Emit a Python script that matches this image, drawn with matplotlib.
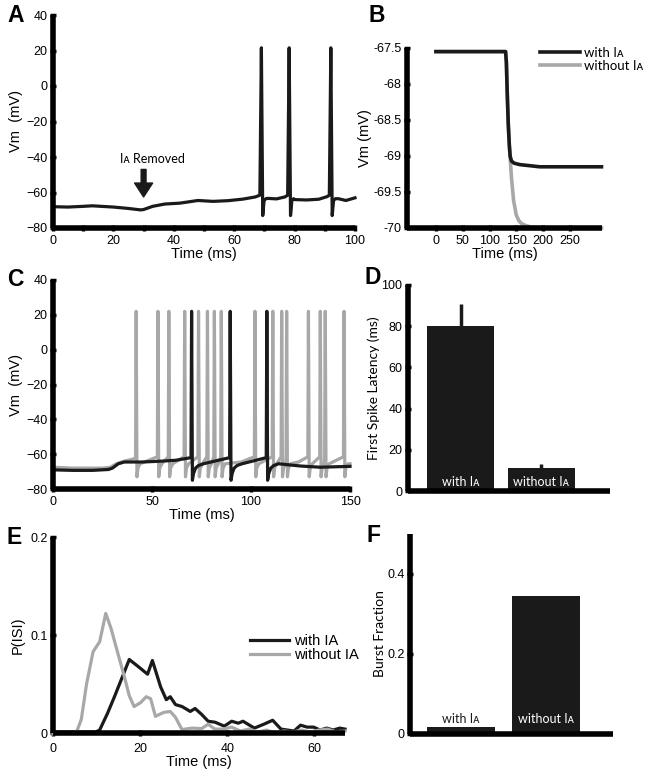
import numpy as np
import matplotlib.pyplot as plt

plt.rcParams['font.family'] = ['Liberation Sans', 'DejaVu Sans']
MYR = ['Lato', 'DejaVu Sans']
IA = 'I\u1d00'
GRAY = '#a8a8a8'
BLK = '#1a1a1a'

# ---- panel A: membrane trace, IA removed at 30 ms
a_base_t = [0, 5, 10, 13, 20, 25, 29, 30, 33, 37, 42, 48, 53, 58, 63, 67,
            71, 74, 76.8, 80, 84, 88, 90.8, 94.5, 97, 100]
a_base_v = [-68, -68.2, -67.8, -67.5, -68.2, -69, -69.8, -69.6, -67.8, -66.5, -66, -64.5,
            -65, -64.6, -63.7, -62.5, -63.3, -63.6, -62.5, -64, -64.2, -63.8, -62.3,
            -63.5, -64.5, -63]
a_spikes = [69.0, 78.2, 92.0]
a_shape_dt = [-0.5, 0, 0.45, 0.9, 1.5]
a_shape_v = [-61.5, 21.5, -73, -64.5, -63.5]

# ---- panel B: steady state Vm
b_t_with = [0, 130, 131.5, 133, 135, 137, 138.5, 141, 146, 157, 194, 309]
b_v_with = [-67.55, -67.55, -67.7, -68.1, -68.55, -68.85, -69.0, -69.07, -69.1, -69.12, -69.15, -69.15]
b_t_without = [0, 130, 131.5, 133, 135, 137, 138.5, 141, 145, 150, 155, 160, 169, 180, 194, 309]
b_v_without = [-67.55, -67.55, -67.7, -68.1, -68.55, -68.85, -69.02, -69.3, -69.62, -69.82, -69.9,
               -69.94, -69.97, -69.99, -70.0, -70.0]

# ---- panel C: spike trains
c_gray_base_t = [0, 10, 25, 29, 32, 36, 41.5, 95, 124, 149, 150]
c_gray_base_v = [-67.5, -68, -68, -67.5, -65.5, -64, -62.5, -64.5, -64.5, -66, -65.5]
c_gray_spikes = [42, 53, 58.5, 66.5, 73.5, 78, 81.5, 85, 102, 111, 115.5, 118,
                 129, 135, 137.5, 147]
c_gray_shape_dt = [-0.3, 0, 0.4, 0.9, 2.0]
c_gray_shape_v = [-61.5, 22, -73, -68, -65.5]

c_blk_base_t = [0, 10, 20, 28, 30, 33, 36, 45, 55, 62, 118, 125, 135, 150]
c_blk_base_v = [-69, -69.3, -69.3, -68.8, -68, -65.5, -64.5, -64.5, -64, -63.5, -66, -66.8, -67.5, -67]
c_blk_spikes = [70, 89.5, 108]
c_blk_shape_dt = [-0.3, 0, 0.4, 1.0, 2.0, 3.5, 6.0]
c_blk_shape_v = [-62, 22, -75, -71, -68, -66.5, -65.5]

# ---- panel D: first spike latency
d_labels = ['with ' + IA, 'without ' + IA]
d_values = [80, 11]
d_err = [11, 2]

# ---- panel E: ISI distributions
e_t_with = [0, 9.8, 10.7, 12.5, 14.1, 15.8, 17.5, 19.5, 21.7, 22.8, 24.7, 26, 26.9, 28.1, 29.6,
            31.5, 32.6, 34.1, 35.6, 37.2, 39.3, 41, 42.5, 43.6, 46.2, 48.4, 50.4, 52.3, 55.3,
            56.8, 58.3, 59.8, 61.3, 62.8, 64.3, 65.8, 67]
e_p_with = [0.001, 0.001, 0.003, 0.02, 0.037, 0.056, 0.075, 0.068, 0.06, 0.074, 0.047, 0.034,
            0.037, 0.029, 0.027, 0.022, 0.025, 0.019, 0.012, 0.011, 0.007, 0.012, 0.01, 0.012,
            0.005, 0.009, 0.013, 0.004, 0.002, 0.008, 0.006, 0.006, 0.003, 0.005, 0.003, 0.005, 0.004]
e_t_without = [0, 3, 5.4, 6.5, 7.7, 9.2, 10.7, 12.1, 13.3, 14.9, 16.4, 17.5, 18.6, 20.1, 21.4,
               22.4, 23.5, 25.4, 26.9, 28.1, 29.6, 31.9, 34.1, 35.6, 37.1, 39, 41, 43, 45, 47,
               49, 51, 53, 55, 57, 59, 61, 63, 65, 67]
e_p_without = [-0.001, 0.0, 0.001, 0.014, 0.05, 0.083, 0.093, 0.122, 0.107, 0.081, 0.057, 0.038,
               0.027, 0.031, 0.037, 0.035, 0.017, 0.021, 0.022, 0.016, 0.0035, 0.005, 0.0045,
               0.009, 0.004, 0.004, 0.006, 0.002, 0.004, 0.001, 0.003, 0.0, 0.002, 0.001, 0.003,
               0.001, 0.003, 0.004, 0.001, 0.002]

# ---- panel F: burst fraction
f_labels = ['with ' + IA, 'without ' + IA]
f_values = [0.018, 0.345]


def build_trace(base_t, base_v, spikes, shape_dt, shape_v):
    pts = list(zip(base_t, base_v))
    for ts in spikes:
        pts += [(ts + d, v) for d, v in zip(shape_dt, shape_v)]
    pts.sort()
    t, v = zip(*pts)
    return np.array(t), np.array(v)


def style(ax):
    for s in ['top', 'right']:
        ax.spines[s].set_visible(False)
    for s in ['left', 'bottom']:
        ax.spines[s].set_linewidth(4)
        ax.spines[s].set_capstyle('butt')
    ax.tick_params(direction='inout', length=4, width=2.5, labelsize=9, pad=2)
    ax.tick_params(axis='x', pad=3)


def panel_label(x, y, s):
    fig.text(x / 645, 1 - y / 775, s, fontsize=16.5, fontweight='bold', va='center', ha='left')


fig = plt.figure(figsize=(6.45, 7.75), dpi=100)

# A
axA = fig.add_axes([53 / 645, 1 - 228 / 775, 302 / 645, 213 / 775])
ta, va = build_trace(a_base_t, a_base_v, a_spikes, a_shape_dt, a_shape_v)
axA.plot(ta, va, color=BLK, lw=2.3, clip_on=False)
axA.set_xlim(0, 100)
axA.set_ylim(-80, 40)
axA.set_xticks(range(0, 101, 20))
axA.set_xticks(range(10, 100, 20), minor=True)
axA.set_yticks(range(-80, 41, 20))
style(axA)
axA.tick_params(which='minor', direction='inout', length=4, width=2.5)
axA.set_xlabel('Time (ms)', fontsize=10.5, labelpad=0)
axA.set_ylabel('Vm  (mV)', fontsize=10.5, labelpad=2)
axA.annotate('', xy=(30, -62.5), xytext=(30, -47),
             arrowprops=dict(facecolor=BLK, edgecolor=BLK, width=3.5, headwidth=13, headlength=10))
axA.text(33, -41, IA + ' Removed', ha='center', va='center', fontsize=9, family=MYR)
panel_label(7, 16, 'A')

# B
axB = fig.add_axes([407 / 645, 1 - 228 / 775, 195 / 645, 180 / 775])
axB.plot(b_t_without, b_v_without, color=GRAY, lw=2.6, label='without ' + IA, clip_on=False)
axB.plot(b_t_with, b_v_with, color=BLK, lw=2.6, label='with ' + IA, clip_on=False)
axB.set_xlim(-54, 310)
axB.set_ylim(-70, -67.5)
axB.set_xticks([0, 50, 100, 150, 200, 250])
axB.set_yticks([-70, -69.5, -69, -68.5, -68, -67.5])
axB.set_yticklabels(['-70', '-69.5', '-69', '-68.5', '-68', '-67.5'])
style(axB)
axB.set_xlabel('Time (ms)', fontsize=10.5, labelpad=0)
axB.set_ylabel('Vm (mV)', fontsize=10.5, labelpad=1)
h, l = axB.get_legend_handles_labels()
fig.legend(h[::-1], l[::-1], loc='upper left', bbox_to_anchor=(540 / 645, 1 - 47 / 775),
           frameon=False, handlelength=3.0, handletextpad=0.3, labelspacing=0.05,
           borderpad=0, borderaxespad=0, prop={'family': MYR, 'size': 9.5})
panel_label(368, 16, 'B')

# C
axC = fig.add_axes([53 / 645, 1 - 489 / 775, 297 / 645, 209 / 775])
tg, vg = build_trace(c_gray_base_t, c_gray_base_v, c_gray_spikes, c_gray_shape_dt, c_gray_shape_v)
tb, vb = build_trace(c_blk_base_t, c_blk_base_v, c_blk_spikes, c_blk_shape_dt, c_blk_shape_v)
axC.plot(tg, vg, color=GRAY, lw=2.3, clip_on=False)
axC.plot(tb, vb, color=BLK, lw=2.3, clip_on=False)
axC.set_xlim(0, 150)
axC.set_ylim(-80, 40)
axC.set_xticks([0, 50, 100, 150])
axC.set_yticks(range(-80, 41, 20))
style(axC)
axC.set_xlabel('Time (ms)', fontsize=10.5, labelpad=0)
axC.set_ylabel('Vm  (mV)', fontsize=10.5, labelpad=2)
panel_label(7, 280, 'C')

# D
axD = fig.add_axes([408 / 645, 1 - 491 / 775, 202 / 645, 206 / 775])
xd = np.arange(1, len(d_values) + 1)
axD.bar(xd, d_values, width=0.83, color=BLK)
axD.errorbar(xd, d_values, yerr=[[0, 0], d_err], fmt='none', ecolor=BLK, elinewidth=2.5, capsize=0)
for x, lab in zip(xd, d_labels):
    axD.text(x, 4.5, lab, color='white', ha='center', va='center', fontsize=9, family=MYR)
axD.set_xlim(0.35, 2.85)
axD.set_ylim(0, 100)
axD.set_xticks([])
axD.set_yticks(range(0, 101, 20))
style(axD)
axD.set_ylabel('First Spike Latency (ms)', fontsize=10, labelpad=1, family=MYR)
panel_label(364, 277, 'D')

# E
axE = fig.add_axes([53 / 645, 1 - 733 / 775, 292 / 645, 196 / 775])
axE.plot(e_t_with, e_p_with, color=BLK, lw=2.3, label='with IA', clip_on=False)
axE.plot(e_t_without, e_p_without, color=GRAY, lw=2.3, label='without IA', clip_on=False)
axE.set_xlim(0, 67)
axE.set_ylim(0, 0.2)
axE.set_xticks([0, 20, 40, 60])
axE.set_yticks([0, 0.1, 0.2])
axE.set_yticklabels(['0', '0.1', '0.2'])
style(axE)
axE.tick_params(axis='x', pad=5)
axE.set_xlabel('Time (ms)', fontsize=10.5, labelpad=0)
axE.set_ylabel('P(ISI)', fontsize=10.5, labelpad=4)
axE.legend(loc='upper left', bbox_to_anchor=(250 / 645, 1 - 634 / 775),
           bbox_transform=fig.transFigure, frameon=False, fontsize=10.5, handlelength=2.7,
           handletextpad=0.3, labelspacing=0.0, borderpad=0, borderaxespad=0)
panel_label(7, 537, 'E')

# F
axF = fig.add_axes([410 / 645, 1 - 734 / 775, 203 / 645, 200 / 775])
xf = np.arange(1, len(f_values) + 1)
axF.bar(xf, f_values, width=0.8, color=BLK)
axF.text(xf[0], 0.038, f_labels[0], color=BLK, ha='center', va='center', fontsize=9, family=MYR)
axF.text(xf[1], 0.038, f_labels[1], color='white', ha='center', va='center', fontsize=9, family=MYR)
axF.set_xlim(0.4, 2.79)
axF.set_ylim(0, 0.5)
axF.set_xticks([])
axF.set_yticks([0, 0.2, 0.4])
axF.set_yticklabels(['0', '0.2', '0.4'])
style(axF)
axF.set_ylabel('Burst Fraction', fontsize=10, labelpad=1, family=MYR)
panel_label(366, 536, 'F')

fig.savefig('out.png', dpi=100)
